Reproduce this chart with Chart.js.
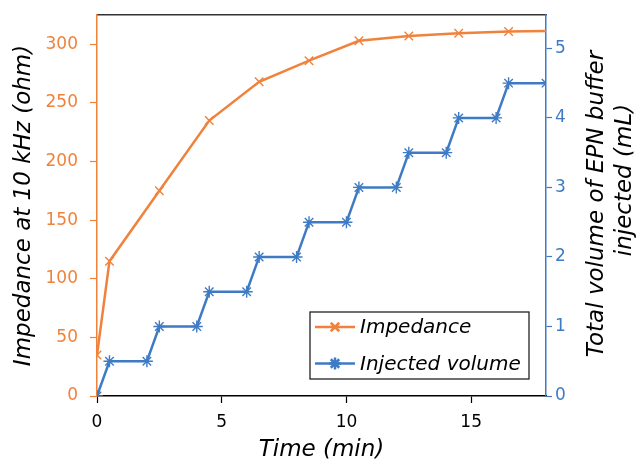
<!DOCTYPE html>
<html>
<head>
<meta charset="utf-8">
<script src="https://cdn.jsdelivr.net/npm/chart.js@4"></script>
<style>
  html, body { margin: 0; padding: 0; background: #fff; }
  #wrap { width: 638px; height: 459px; position: relative; }
</style>
</head>
<body>
<div id="wrap"><canvas id="c" width="638" height="459"></canvas></div>
<script>
// ---- data ----
const impedanceTime   = [0, 0.5, 2.5, 4.5, 6.5, 8.5, 10.5, 12.5, 14.5, 16.5, 18.5];
const impedanceValues = [35, 115, 175, 235, 268, 286, 303, 307, 309.5, 311, 311.5];
const volumeTime      = [0, 0.5, 2, 2.5, 4, 4.5, 6, 6.5, 8, 8.5, 10, 10.5, 12, 12.5, 14, 14.5, 16, 16.5, 18];
const volumeValues    = [0, 0.5, 0.5, 1, 1, 1.5, 1.5, 2, 2, 2.5, 2.5, 3, 3, 3.5, 3.5, 4, 4, 4.5, 4.5];
const seriesLabels    = ['Impedance', 'Injected volume'];
const xTitle          = 'Time (min)';
const yLeftTitle      = 'Impedance at 10 kHz (ohm)';
const yRightTitle     = ['Total volume of EPN buffer', 'injected (mL)'];

const ORANGE = '#F0823C';
const BLUE = '#3E7BC4';
const FONT = "'DejaVu Sans', Verdana, sans-serif";

Chart.defaults.font.family = FONT;
Chart.defaults.color = '#000';

const toXY = (xs, ys) => xs.map((x, i) => ({ x: x, y: ys[i] }));

const noPad = (s) => { s.paddingTop = 0; s.paddingBottom = 0; s.paddingLeft = 0; s.paddingRight = 0; };

const legendPlugin = {
  id: 'insideLegend',
  afterDraw(chart) {
    const ctx = chart.ctx;
    ctx.save();
    const bx = 310, by = 312, bw = 219, bh = 67;
    ctx.fillStyle = '#fff';
    ctx.fillRect(bx, by, bw, bh);
    ctx.strokeStyle = '#222';
    ctx.lineWidth = 1.3;
    ctx.strokeRect(bx, by, bw, bh);
    const rows = [327, 363.5];
    chart.data.datasets.forEach((ds, i) => {
      const y = rows[i];
      ctx.strokeStyle = ds.borderColor;
      ctx.lineWidth = 2.5;
      ctx.beginPath();
      ctx.moveTo(315, y);
      ctx.lineTo(355, y);
      ctx.stroke();
      Chart.helpers.drawPoint(ctx, {
        pointStyle: ds.pointStyle, radius: ds.pointRadius, borderWidth: ds.pointBorderWidth, rotation: 0
      }, 335, y);
      ctx.fillStyle = '#000';
      ctx.font = 'italic 20px ' + FONT;
      ctx.textAlign = 'left';
      ctx.textBaseline = 'middle';
      ctx.fillText(ds.label, 360, y + 1);
    });
    ctx.restore();
  }
};

const rightTitlePlugin = {
  id: 'rightTitle',
  afterDraw(chart) {
    const ctx = chart.ctx;
    ctx.save();
    ctx.fillStyle = '#000';
    ctx.font = 'italic 23px ' + FONT;
    ctx.textAlign = 'center';
    ctx.textBaseline = 'middle';
    const pos = [[597, 204], [625, 180]];
    yRightTitle.forEach((t, i) => {
      ctx.save();
      ctx.translate(pos[i][0], pos[i][1]);
      ctx.rotate(-Math.PI / 2);
      ctx.fillText(t, 0, 0);
      ctx.restore();
    });
    ctx.restore();
  }
};

new Chart(document.getElementById('c'), {
  type: 'line',
  data: {
    datasets: [
      {
        label: seriesLabels[0],
        data: toXY(impedanceTime, impedanceValues),
        yAxisID: 'y',
        borderColor: ORANGE,
        backgroundColor: ORANGE,
        borderWidth: 2.5,
        pointStyle: 'crossRot',
        pointRadius: 6,
        pointBorderWidth: 1.4,
        pointBorderColor: ORANGE,
        tension: 0,
        order: 1
      },
      {
        label: seriesLabels[1],
        data: toXY(volumeTime, volumeValues),
        yAxisID: 'y2',
        borderColor: BLUE,
        backgroundColor: BLUE,
        borderWidth: 2.5,
        pointStyle: 'star',
        pointRadius: 6,
        pointBorderWidth: 1.4,
        pointBorderColor: BLUE,
        tension: 0,
        order: 2
      }
    ]
  },
  options: {
    responsive: false,
    animation: false,
    devicePixelRatio: 1,
    layout: { padding: 0 },
    plugins: { legend: { display: false }, tooltip: { enabled: false } },
    scales: {
      x: {
        type: 'linear', position: 'bottom', min: 0, max: 18,
        afterFit(s) { s.height = 63; noPad(s); },
        ticks: { stepSize: 5, includeBounds: false, color: '#000', font: { size: 17 }, padding: 9, maxRotation: 0 },
        grid: { display: true, drawOnChartArea: false, tickLength: 7, tickColor: '#000', tickWidth: 1.2 },
        border: { display: true, color: '#000', width: 1.5 },
        title: { display: true, text: xTitle, color: '#000', font: { size: 23, style: 'italic' }, padding: { top: 0, bottom: -5 } }
      },
      xTop: {
        type: 'linear', position: 'top', min: 0, max: 18,
        afterFit(s) { s.height = 15; noPad(s); },
        ticks: { display: false },
        grid: { display: true, drawOnChartArea: false, drawTicks: false },
        border: { display: true, color: '#333', width: 1.5 }
      },
      y: {
        type: 'linear', position: 'left', min: 0, max: 325,
        afterFit(s) { s.width = 97; noPad(s); },
        ticks: { stepSize: 50, includeBounds: false, color: ORANGE, font: { size: 17 }, padding: 12 },
        grid: { display: true, drawOnChartArea: false, tickLength: 7, tickColor: ORANGE, tickWidth: 1.2 },
        border: { display: true, color: ORANGE, width: 1.5 },
        title: { display: true, text: yLeftTitle, color: '#000', font: { size: 23, style: 'italic' }, padding: { top: 10, bottom: 0 } }
      },
      y2: {
        type: 'linear', position: 'right', min: 0, max: 5.48,
        afterFit(s) { s.width = 92; noPad(s); },
        ticks: { stepSize: 1, includeBounds: false, color: BLUE, font: { size: 17 }, padding: 3 },
        grid: { display: true, drawOnChartArea: false, tickLength: 6, tickColor: BLUE, tickWidth: 1.2 },
        border: { display: true, color: BLUE, width: 1.5 }
      }
    }
  },
  plugins: [legendPlugin, rightTitlePlugin]
});
</script>
</body>
</html>
